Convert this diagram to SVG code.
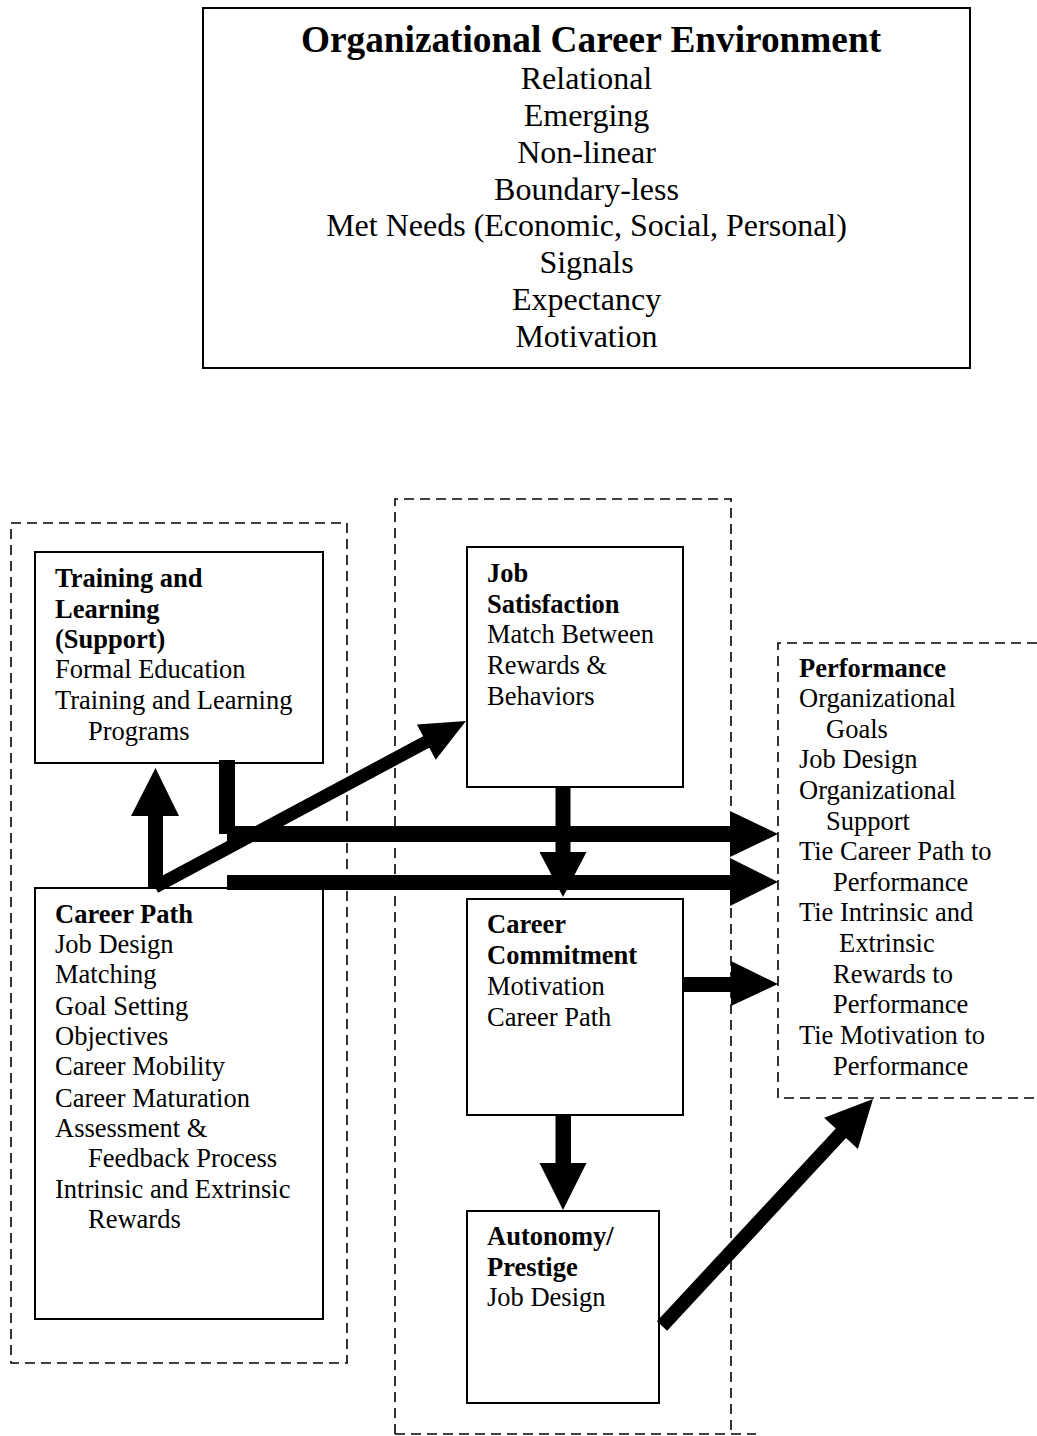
<svg xmlns="http://www.w3.org/2000/svg" width="1037" height="1436" viewBox="0 0 1037 1436">
  <style>
    .box { fill: #fff; stroke: #000; stroke-width: 2; }
    .dash { fill: none; stroke: #000; stroke-width: 1.6; stroke-dasharray: 10 6; }
    .t { font-family: "Liberation Serif", "Times New Roman", serif; font-size: 26.5px; fill: #000; }
    .b { font-weight: bold; }
    .env { font-family: "Liberation Serif", "Times New Roman", serif; font-size: 32px; fill: #000; text-anchor: middle; }
    .shaft { stroke: #000; fill: none; stroke-linecap: butt; }
    .head { fill: #000; stroke: none; }
    .bar { fill: #000; }
  </style>

  <!-- environment box -->
  <g id="environment">
    <rect class="box" x="203" y="8" width="767" height="360"/>
    <text class="env b" x="591" y="52" style="font-size:37.3px">Organizational Career Environment</text>
    <text class="env" x="586.5" y="89">Relational</text>
    <text class="env" x="586.5" y="126">Emerging</text>
    <text class="env" x="586.5" y="163">Non-linear</text>
    <text class="env" x="586.5" y="200">Boundary-less</text>
    <text class="env" x="586.5" y="236">Met Needs (Economic, Social, Personal)</text>
    <text class="env" x="586.5" y="273">Signals</text>
    <text class="env" x="586.5" y="310">Expectancy</text>
    <text class="env" x="586.5" y="347">Motivation</text>
  </g>

  <!-- dashed groupings -->
  <g id="group-left">
    <rect class="dash" x="11" y="523" width="336" height="840"/>
  </g>
  <g id="group-middle">
    <path class="dash" d="M395,1434 V499 H731 V1434 M395,1434 H756"/>
  </g>

  <g id="training">
    <rect class="box" x="35" y="552" width="288" height="211"/>
    <text class="t b" x="55" y="587">Training and</text>
    <text class="t b" x="55" y="618">Learning</text>
    <text class="t b" x="55" y="648">(Support)</text>
    <text class="t" x="55" y="678">Formal Education</text>
    <text class="t" x="55" y="709">Training and Learning</text>
    <text class="t" x="88" y="740">Programs</text>
  </g>

  <g id="career-path">
    <rect class="box" x="35" y="888" width="288" height="431"/>
    <text class="t b" x="55" y="923">Career Path</text>
    <text class="t" x="55" y="953">Job Design</text>
    <text class="t" x="55" y="983">Matching</text>
    <text class="t" x="55" y="1015">Goal Setting</text>
    <text class="t" x="55" y="1045">Objectives</text>
    <text class="t" x="55" y="1075">Career Mobility</text>
    <text class="t" x="55" y="1107">Career Maturation</text>
    <text class="t" x="55" y="1137">Assessment &amp;</text>
    <text class="t" x="88" y="1167">Feedback Process</text>
    <text class="t" x="55" y="1198">Intrinsic and Extrinsic</text>
    <text class="t" x="88" y="1228">Rewards</text>
  </g>

  <g id="job-satisfaction">
    <rect class="box" x="467" y="547" width="216" height="240"/>
    <text class="t b" x="487" y="582">Job</text>
    <text class="t b" x="487" y="613">Satisfaction</text>
    <text class="t" x="487" y="643">Match Between</text>
    <text class="t" x="487" y="674">Rewards &amp;</text>
    <text class="t" x="487" y="705">Behaviors</text>
  </g>

  <g id="career-commitment">
    <rect class="box" x="467" y="899" width="216" height="216"/>
    <text class="t b" x="487" y="933">Career</text>
    <text class="t b" x="487" y="964">Commitment</text>
    <text class="t" x="487" y="995">Motivation</text>
    <text class="t" x="487" y="1026">Career Path</text>
  </g>

  <g id="autonomy">
    <rect class="box" x="467" y="1211" width="192" height="192"/>
    <text class="t b" x="487" y="1245">Autonomy/</text>
    <text class="t b" x="487" y="1276">Prestige</text>
    <text class="t" x="487" y="1306">Job Design</text>
  </g>

  <g id="performance">
    <path class="dash" d="M1037,643 H778 V1098 H1037"/>
    <text class="t b" x="799" y="677">Performance</text>
    <text class="t" x="799" y="707">Organizational</text>
    <text class="t" x="826" y="738">Goals</text>
    <text class="t" x="799" y="768">Job Design</text>
    <text class="t" x="799" y="799">Organizational</text>
    <text class="t" x="826" y="830">Support</text>
    <text class="t" x="799" y="860">Tie Career Path to</text>
    <text class="t" x="833" y="891">Performance</text>
    <text class="t" x="799" y="921">Tie Intrinsic and</text>
    <text class="t" x="839" y="952">Extrinsic</text>
    <text class="t" x="833" y="983">Rewards to</text>
    <text class="t" x="833" y="1013">Performance</text>
    <text class="t" x="799" y="1044">Tie Motivation to</text>
    <text class="t" x="833" y="1075">Performance</text>
  </g>

  <!-- connectors -->
  <g id="connectors">
    <!-- career path up to training -->
    <rect class="bar" x="148" y="814" width="15" height="74"/>
    <polygon class="head" points="155.5,768 131,816 179,816"/>

    <!-- career path to job satisfaction -->
    <line class="shaft" x1="155" y1="887" x2="428" y2="741" stroke-width="13"/>
    <polygon class="head" points="466,721 435.7,759.8 416.9,724.6"/>

    <!-- training to performance -->
    <path class="bar" d="M219,760 H235 V826 H732 V842 H227 V834 H219 Z"/>
    <polygon class="head" points="778,834 730,811 730,857"/>

    <!-- career path to performance -->
    <rect class="bar" x="227" y="875" width="505" height="15"/>
    <polygon class="head" points="778,882 730,858 730,906"/>

    <!-- job satisfaction to career commitment -->
    <rect class="bar" x="555.5" y="787" width="15" height="67"/>
    <polygon class="head" points="563,897 539.5,852 586.5,852"/>

    <!-- career commitment to performance -->
    <rect class="bar" x="683" y="977" width="49" height="15"/>
    <polygon class="head" points="778,984 731,961 731,1006"/>

    <!-- career commitment to autonomy -->
    <rect class="bar" x="555.5" y="1115" width="15.5" height="50"/>
    <polygon class="head" points="563,1210 539.5,1163 586.5,1163"/>

    <!-- autonomy to performance -->
    <line class="shaft" x1="662" y1="1326" x2="843" y2="1131" stroke-width="14"/>
    <polygon class="head" points="873,1099 857.9,1149.1 824.1,1117.7"/>
  </g>
</svg>
